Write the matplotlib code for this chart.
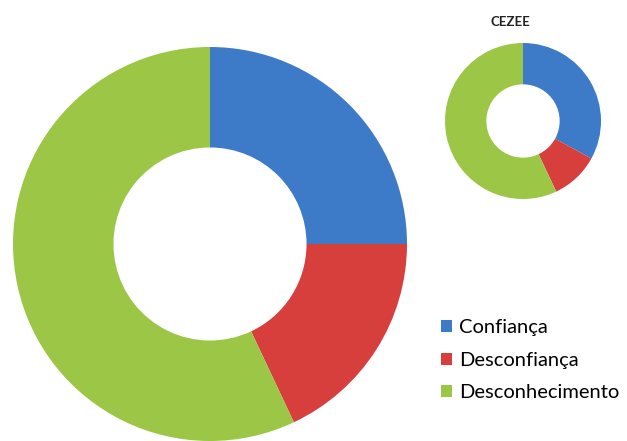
import matplotlib
matplotlib.use('Agg')
import matplotlib.pyplot as plt

labels = ['Confiança', 'Desconfiança', 'Desconhecimento']
colors = ['#3D7BC8', '#D63F3B', '#9CC646']
total_values = [25, 18, 57]
cezee_values = [33, 10, 57]
small_title = 'CEZEE'

W, H = 627, 441
fig = plt.figure(figsize=(W / 100, H / 100), dpi=100)
plt.rcParams['font.family'] = ['Lato', 'DejaVu Sans']


def box(cx, cy, r):
    # pixel centre/radius (top-down) -> figure fractions
    return [(cx - r) / W, (H - cy - r) / H, 2 * r / W, 2 * r / H]


ax1 = fig.add_axes(box(210, 244, 197))
wedges, _ = ax1.pie(total_values, colors=colors, startangle=90, counterclock=False,
                    radius=1, wedgeprops=dict(width=0.51, edgecolor='none'))
ax1.set_xlim(-1, 1)
ax1.set_ylim(-1, 1)
ax1.set_aspect('equal')
ax1.axis('off')

ax2 = fig.add_axes(box(523, 121, 78))
ax2.pie(cezee_values, colors=colors, startangle=90, counterclock=False,
        radius=1, wedgeprops=dict(width=0.53, edgecolor='none'))
ax2.set_xlim(-1, 1)
ax2.set_ylim(-1, 1)
ax2.set_aspect('equal')
ax2.axis('off')

fig.text(510 / W, 1 - 22 / H, small_title, ha='center', va='center',
         fontsize=9.5, fontweight='bold', color='#222222')

fig.legend(wedges, labels, loc='upper left', bbox_to_anchor=(431 / W, 1 - 309 / H),
           frameon=False, fontsize=14.5, handlelength=0.55, handleheight=0.55,
           handletextpad=0.35, labelspacing=0.78, borderpad=0)

fig.savefig('out.png', dpi=100)
plt.close()
